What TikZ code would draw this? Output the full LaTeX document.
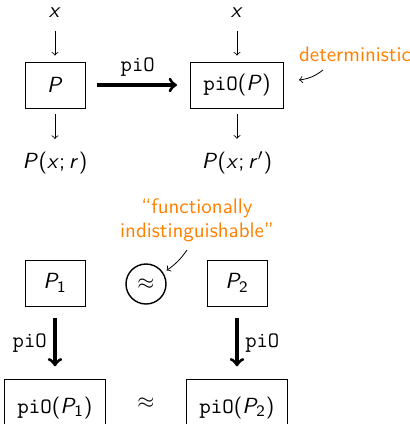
\documentclass[tikz,border=0pt]{standalone}
\usepackage{tikz}
\usetikzlibrary{arrows}
% sans serif math, as on the slides
\SetSymbolFont{operators}{normal}{OT1}{cmss}{m}{n}
\SetSymbolFont{letters}{normal}{OT1}{cmss}{m}{sl}
\renewcommand{\familydefault}{\sfdefault}

\begin{document}
\begin{tikzpicture}[x=0.5pt, y=-0.5pt,
		>=to,   %arrow tips
		font=\fontsize{11}{13}\selectfont,
		box/.style={draw, minimum width=30pt, minimum height=23pt, inner xsep=6.5pt},
		cutbox/.style={box, anchor=base, text height=13.3pt, text depth=10pt},
		thinarrow/.style={->, shorten <=3pt, shorten >=3pt},
		thickarrow/.style={->, line width=1.6pt, shorten <=6pt, shorten >=6.5pt},
		note/.style={text=orange, align=center, font=\fontsize{10.5}{12}\selectfont}]
		\useasboundingbox (0,0) rectangle (410,424);
		%upper part: obfuscating P
		\node (xone) at (55,13) {$x$};
		\node (xtwo) at (237,13) {$x$};
		\node[box] (P) at (55,85) {$P$};
		\node[box] (piOP) at (237,85) {$\mathtt{piO}(P)$};
		\node (outone) at (55,163) {$P(x;r)$};
		\node (outtwo) at (237,163) {$P(x;r')$};
		\draw[thinarrow] (xone) -- (P);
		\draw[thinarrow] (xtwo) -- (piOP);
		\draw[thinarrow] (P) -- (outone);
		\draw[thinarrow] (piOP) -- (outtwo);
		\draw[thickarrow] (P) -- node[above=0pt] {\texttt{piO}} (piOP);
		% note
		\node[note] (det) at (355,54) {deterministic};
		\coordinate (detfrom) at (323,70);
		\draw[->] (detfrom) to[bend left=15] ([xshift=7.5pt,yshift=2.5pt]piOP.east);
		%lower part: two programs
		\node[box] (Pone) at (55,283) {$P_1$};
		\node[box] (Ptwo) at (237,283) {$P_2$};
		\node[draw, circle, line width=0.7pt, minimum size=20pt, inner sep=0pt] (eq) at (146,284) {$\approx$};
		\node[note] (fi) at (197,220) {``functionally\\indistinguishable''};
		\coordinate (fifrom) at (187,250);
		\draw[->] (fifrom) to[bend left=10] ([xshift=3pt,yshift=-0.5pt]eq.north east);
		\node[cutbox] (piOone) at (55,413) {$\mathtt{piO}(P_1)$};
		\node[cutbox] (piOtwo) at (237,413) {$\mathtt{piO}(P_2)$};
		\node (eqtwo) at (146,403) {$\approx$};
		\draw[thickarrow] (Pone) -- node[left=0pt] {\texttt{piO}} (Pone |- piOone.north);
		\draw[thickarrow] (Ptwo) -- node[right=0pt] {\texttt{piO}} (Ptwo |- piOtwo.north);
	\end{tikzpicture}
\end{document}
